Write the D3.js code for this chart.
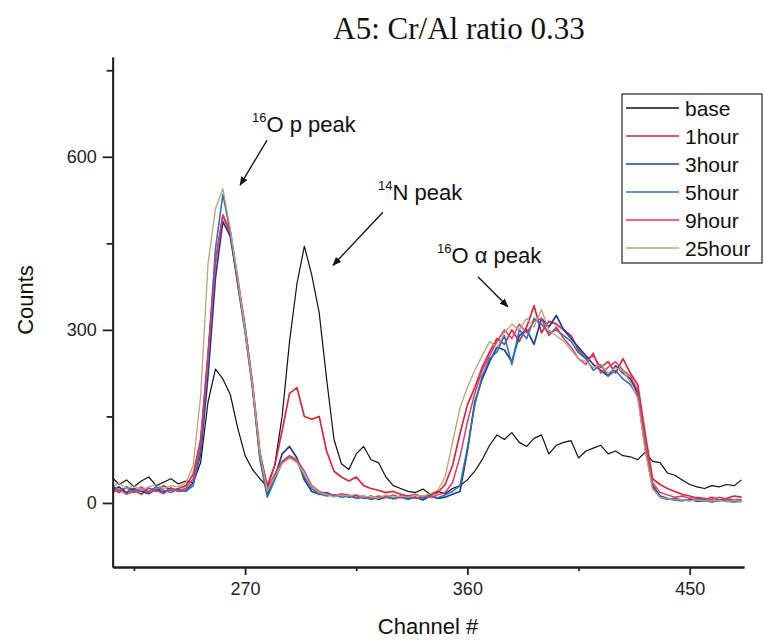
<!DOCTYPE html>
<html>
<head>
<meta charset="utf-8">
<script src="https://cdnjs.cloudflare.com/ajax/libs/d3/7.8.5/d3.min.js"></script>
<style>
  body { margin: 0; background: #fff; }
  svg text { font-family: Arial, "Liberation Sans", sans-serif; fill: #111; }
  .axis path, .axis line { stroke: #222; stroke-width: 1.8; }
  .axis text { font-size: 18px; fill: #222; }
</style>
</head>
<body>
<script>
const width = 764,
      height = 644;

// channel grid (every 3rd channel)
const channels = [216,219,222,225,228,231,234,237,240,243,
  246,249,252,255,258,261,264,267,270,273,
  276,279,282,285,288,291,294,297,300,303,
  306,309,312,315,318,321,324,327,330,333,
  336,339,342,345,348,351,354,357,360,363,
  366,369,372,375,378,381,384,387,390,393,
  396,399,402,405,408,411,414,417,420,423,
  426,429,432,435,438,441,444,447,450,453,
  456,459,462,465,468,471];

const base = [45,32,40,28,38,45,30,36,42,33,
  38,35,70,175,232,215,188,130,82,58,
  42,28,65,150,280,380,445,395,330,215,
  110,68,58,85,98,75,70,45,30,25,
  20,18,24,15,20,16,25,30,40,55,
  75,100,118,110,122,105,98,112,118,85,
  100,105,108,78,90,95,100,85,90,82,
  80,75,88,72,70,52,48,40,32,28,
  25,30,28,32,30,40];

const hour1 = [25,18,28,22,15,26,20,30,22,25,
  30,50,110,260,420,498,468,380,300,200,
  85,30,65,125,190,200,150,145,150,90,
  55,45,38,45,30,25,22,18,20,15,
  12,15,10,14,18,32,65,120,170,200,
  235,262,285,275,300,280,305,342,295,315,
  310,300,290,265,250,255,235,245,225,250,
  225,205,120,42,32,25,20,15,12,8,
  6,10,5,8,12,10];

const hour3 = [22,28,18,25,20,16,24,18,26,20,
  22,35,85,220,390,488,462,385,305,205,
  80,15,45,85,98,78,40,20,15,18,
  12,15,10,14,8,12,6,10,8,12,
  8,10,5,12,8,10,15,20,90,175,
  215,245,270,265,245,290,300,275,320,305,
  325,300,285,270,255,240,230,220,238,225,
  215,190,95,30,12,8,5,4,6,3,
  4,2,5,3,2,4];

const hour5 = [30,22,26,18,24,20,28,22,18,24,
  20,30,95,250,440,535,470,380,295,200,
  75,10,40,70,80,72,45,25,16,12,
  14,10,12,8,10,6,9,12,7,10,
  6,10,8,12,9,14,20,30,95,170,
  220,250,262,290,240,300,285,320,310,295,
  300,290,280,260,250,230,240,220,230,215,
  205,185,100,25,10,6,8,5,4,6,
  5,3,4,6,3,2];

const hour9 = [18,24,15,20,28,18,22,16,25,20,
  26,42,105,255,415,500,472,392,305,210,
  90,25,50,72,82,75,55,30,20,16,
  12,16,14,10,12,8,12,10,14,9,
  12,8,12,10,14,18,35,80,140,190,
  230,255,280,300,285,310,295,315,320,290,
  305,285,270,250,240,260,225,235,245,230,
  220,195,105,35,18,14,10,12,8,10,
  8,6,10,7,5,6];

const hour25 = [28,34,25,30,22,28,32,25,30,28,
  35,65,185,415,510,545,475,390,300,205,
  85,20,45,68,78,70,50,28,18,15,
  10,14,12,15,10,12,8,14,10,12,
  10,14,12,16,22,45,105,165,200,230,
  255,280,270,295,310,300,320,305,335,300,
  290,280,265,250,245,235,240,225,235,228,
  210,180,90,25,10,8,5,6,4,5,
  4,3,5,2,4,3];

const seriesNames = ["base", "1hour", "3hour", "5hour", "9hour", "25hour"];
const seriesValues = [base, hour1, hour3, hour5, hour9, hour25];
const seriesColors = ["#111111", "#d42a3c", "#1f3c98", "#2f72b8", "#e0386a", "#b4a676"];
const seriesWidths = [1.2, 1.7, 1.7, 1.6, 1.5, 1.3];

const xMajorTicks = [270, 360, 450];
const xMinorTicks = [225, 315, 405];
const yMajorTicks = [0, 300, 600];
const yMinorTicks = [150, 450, 750];

// annotations in data coordinates
const annotations = [
  {sup: "16", main: "O p peak", x: 272.8, y: 643, ax1: 278.9, ay1: 629, ax2: 268, ay2: 551},
  {sup: "14", main: "N peak", x: 323.8, y: 525, ax1: 325.8, ay1: 504, ax2: 305.6, ay2: 412},
  {sup: "16", main: "O \u03b1 peak", x: 347.7, y: 416, ax1: 364.3, ay1: 392, ax2: 376.4, ay2: 340}
];

const plotLeft = 112.7, plotRight = 744, plotTop = 57, plotBottom = 567;

let svg = d3.select("body")
    .append("svg")
    .attr("width", width)
    .attr("height", height);

let x = d3.scaleLinear().domain([216.4, 472]).range([plotLeft, plotRight]);
let y = d3.scaleLinear().domain([-111, 773]).range([plotBottom, plotTop]);

let defs = svg.append("defs");
defs.append("clipPath")
    .attr("id", "plot")
    .append("rect")
    .attr("x", plotLeft).attr("y", plotTop)
    .attr("width", plotRight - plotLeft).attr("height", plotBottom - plotTop);

defs.append("marker")
    .attr("id", "arrow")
    .attr("viewBox", "0 0 10 10")
    .attr("refX", 9).attr("refY", 5)
    .attr("markerWidth", 9).attr("markerHeight", 9)
    .attr("markerUnits", "userSpaceOnUse")
    .attr("orient", "auto")
    .append("path")
    .attr("d", "M0,1 L10,5 L0,9 Z")
    .attr("fill", "#111");

// curves
let line = d3.line()
    .x(function (d, i) {return x(channels[i]);})
    .y(function (d) {return y(d);});

let curves = svg.append("g").attr("clip-path", "url(#plot)");
seriesValues.forEach(function (vals, k) {
    curves.append("path")
        .attr("d", line(vals))
        .attr("fill", "none")
        .attr("stroke", seriesColors[k])
        .attr("stroke-width", seriesWidths[k])
        .attr("stroke-linejoin", "round");
});

// axes
svg.append("g")
    .attr("class", "axis")
    .attr("transform", "translate(0," + plotBottom + ")")
    .call(d3.axisBottom(x).tickValues(xMajorTicks).tickSize(8).tickSizeOuter(0).tickPadding(7));

svg.append("g")
    .attr("class", "axis")
    .attr("transform", "translate(0," + plotBottom + ")")
    .call(d3.axisBottom(x).tickValues(xMinorTicks).tickSize(4).tickSizeOuter(0).tickFormat(""));

svg.append("g")
    .attr("class", "axis")
    .attr("transform", "translate(" + plotLeft + ",0)")
    .call(d3.axisLeft(y).tickValues(yMajorTicks).tickSize(10).tickSizeOuter(0).tickPadding(6));

svg.append("g")
    .attr("class", "axis")
    .attr("transform", "translate(" + plotLeft + ",0)")
    .call(d3.axisLeft(y).tickValues(yMinorTicks).tickSize(6).tickSizeOuter(0).tickFormat(""));

// title and axis labels
svg.append("text")
    .attr("x", 459)
    .attr("y", 39)
    .attr("text-anchor", "middle")
    .style("font-family", "'Times New Roman', 'Liberation Serif', serif")
    .style("font-size", "31px")
    .text("A5: Cr/Al ratio 0.33");

svg.append("text")
    .attr("text-anchor", "middle")
    .attr("transform", "translate(33,300)rotate(-90)")
    .style("font-size", "22px")
    .text("Counts");

svg.append("text")
    .attr("x", 428)
    .attr("y", 634)
    .attr("text-anchor", "middle")
    .style("font-size", "22px")
    .text("Channel #");

// annotations
annotations.forEach(function (a) {
    let t = svg.append("text")
        .attr("x", x(a.x))
        .attr("y", y(a.y))
        .style("font-size", "22px");
    t.append("tspan").attr("dy", -10).style("font-size", "13px").text(a.sup);
    t.append("tspan").attr("dy", 10).text(a.main);

    svg.append("line")
        .attr("x1", x(a.ax1)).attr("y1", y(a.ay1))
        .attr("x2", x(a.ax2)).attr("y2", y(a.ay2))
        .attr("stroke", "#111")
        .attr("stroke-width", 1.3)
        .attr("marker-end", "url(#arrow)");
});

// legend
let legend = svg.append("g").attr("transform", "translate(622,94)");
legend.append("rect")
    .attr("width", 140)
    .attr("height", 169)
    .attr("fill", "#fff")
    .attr("stroke", "#222")
    .attr("stroke-width", 1.2);

seriesNames.forEach(function (name, k) {
    let row = legend.append("g").attr("transform", "translate(0," + (14 + k * 28) + ")");
    row.append("line")
        .attr("x1", 4).attr("x2", 57)
        .attr("stroke", seriesColors[k])
        .attr("stroke-width", 1.4);
    row.append("text")
        .attr("x", 63)
        .attr("y", 8)
        .style("font-size", "21px")
        .text(name);
});
</script>
</body>
</html>
